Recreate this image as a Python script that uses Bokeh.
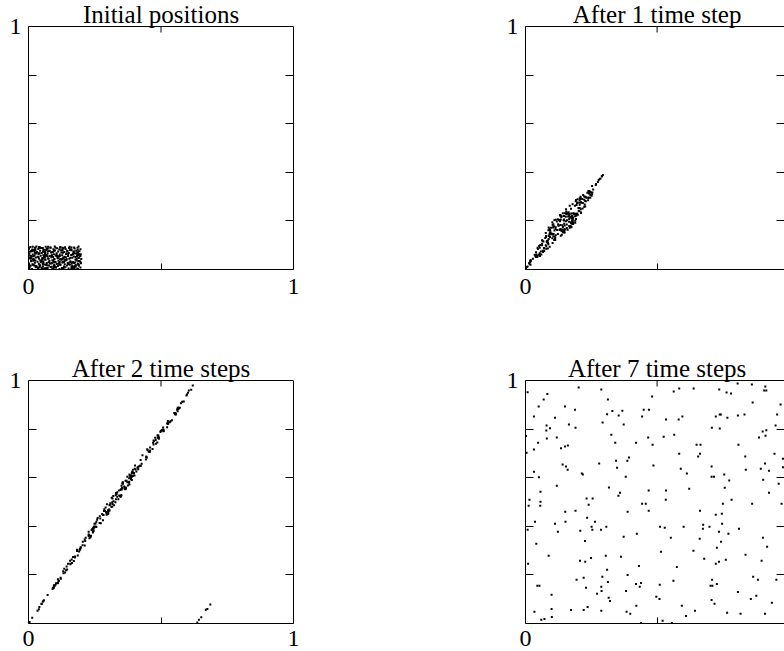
from bokeh.plotting import figure
from bokeh.models import Range1d, LinearAxis, FixedTicker, CustomJSTickFormatter, Label, Span
from bokeh.layouts import column, row
from bokeh.embed import file_html
from bokeh.resources import INLINE

# ---------------------------------------------------------------------------
# Particle positions in the unit square (x, y) at four stages of the map
# ---------------------------------------------------------------------------
initial_x = [
    0.004, 0.013, 0.027, 0.036, 0.049, 0.058, 0.071, 0.083, 0.092, 0.104, 0.117, 0.126, 0.139, 0.151, 0.160, 0.173, 0.184, 0.196,
    0.008, 0.019, 0.031, 0.043, 0.054, 0.066, 0.077, 0.088, 0.098, 0.111, 0.121, 0.134, 0.145, 0.156, 0.167, 0.179, 0.190,
    0.002, 0.015, 0.024, 0.039, 0.047, 0.061, 0.069, 0.081, 0.095, 0.107, 0.114, 0.129, 0.137, 0.148, 0.163, 0.176, 0.187, 0.198,
    0.010, 0.021, 0.034, 0.045, 0.056, 0.064, 0.079, 0.090, 0.101, 0.113, 0.124, 0.131, 0.143, 0.158, 0.169, 0.181, 0.193,
    0.005, 0.017, 0.028, 0.040, 0.052, 0.063, 0.074, 0.086, 0.097, 0.109, 0.119, 0.132, 0.141, 0.154, 0.165, 0.177, 0.188, 0.199,
    0.012, 0.023, 0.035, 0.046, 0.059, 0.068, 0.080, 0.093, 0.103, 0.115, 0.127, 0.136, 0.149, 0.161, 0.171, 0.183, 0.194,
    0.003, 0.016, 0.026, 0.038, 0.050, 0.062, 0.072, 0.085, 0.096, 0.106, 0.118, 0.130, 0.142, 0.152, 0.164, 0.175, 0.186, 0.197,
    0.009, 0.020, 0.032, 0.044, 0.055, 0.067, 0.078, 0.089, 0.100, 0.112, 0.123, 0.135, 0.147, 0.157, 0.170, 0.180, 0.192,
    0.001, 0.014, 0.025, 0.037, 0.048, 0.060, 0.073, 0.084, 0.094, 0.108, 0.116, 0.128, 0.140, 0.153, 0.162, 0.174, 0.185, 0.196,
    0.007, 0.030, 0.042, 0.065, 0.082, 0.099, 0.120, 0.138, 0.155, 0.172, 0.189,
    0.028, 0.184, 0.070, 0.158, 0.076, 0.052, 0.076, 0.158, 0.056, 0.038, 0.138, 0.186, 0.020, 0.040, 0.098, 0.118, 0.014, 0.128,
    0.056, 0.016, 0.172, 0.006, 0.050, 0.042, 0.012, 0.164, 0.160, 0.102, 0.164, 0.132, 0.018, 0.088, 0.190, 0.116, 0.062, 0.106,
    0.080, 0.056, 0.022, 0.090, 0.168, 0.054, 0.186, 0.042, 0.110, 0.128, 0.044, 0.178, 0.186, 0.162, 0.088, 0.162, 0.150, 0.118,
    0.088, 0.056, 0.112, 0.046, 0.172, 0.062, 0.054, 0.002, 0.182, 0.128, 0.132, 0.068, 0.068, 0.020, 0.086, 0.128, 0.026, 0.072,
    0.052, 0.098, 0.024, 0.144, 0.174, 0.132, 0.062, 0.176, 0.096, 0.104, 0.040, 0.056, 0.050, 0.182, 0.106, 0.072, 0.184, 0.006,
    0.002, 0.060, 0.010, 0.164, 0.132, 0.026, 0.028, 0.102, 0.030, 0.120, 0.066, 0.144, 0.072, 0.118, 0.038, 0.018, 0.172, 0.146,
    0.186, 0.022, 0.062, 0.022, 0.096, 0.088, 0.074, 0.124, 0.190, 0.070, 0.170, 0.054, 0.178, 0.054, 0.162, 0.002, 0.098, 0.196,
    0.134, 0.124, 0.012, 0.128, 0.172, 0.026, 0.188, 0.190, 0.094, 0.038, 0.004, 0.196, 0.188, 0.004, 0.010, 0.042, 0.152, 0.062,
    0.150, 0.168, 0.096, 0.092, 0.138,
]
initial_y = [
    0.006, 0.002, 0.009, 0.004, 0.007, 0.001, 0.005, 0.010, 0.003, 0.008, 0.002, 0.006, 0.009, 0.004, 0.001, 0.007, 0.003, 0.008,
    0.015, 0.019, 0.012, 0.017, 0.013, 0.020, 0.016, 0.011, 0.018, 0.014, 0.019, 0.012, 0.016, 0.020, 0.013, 0.017, 0.015,
    0.025, 0.022, 0.028, 0.024, 0.030, 0.021, 0.027, 0.025, 0.029, 0.023, 0.026, 0.030, 0.022, 0.027, 0.024, 0.029, 0.021, 0.026,
    0.034, 0.039, 0.032, 0.037, 0.033, 0.040, 0.035, 0.038, 0.031, 0.036, 0.040, 0.033, 0.038, 0.034, 0.031, 0.037, 0.035,
    0.046, 0.042, 0.049, 0.044, 0.047, 0.041, 0.045, 0.050, 0.043, 0.048, 0.042, 0.046, 0.050, 0.044, 0.048, 0.041, 0.047, 0.043,
    0.055, 0.059, 0.052, 0.057, 0.053, 0.060, 0.056, 0.051, 0.058, 0.054, 0.059, 0.052, 0.056, 0.060, 0.053, 0.057, 0.055,
    0.065, 0.062, 0.069, 0.064, 0.068, 0.061, 0.066, 0.070, 0.063, 0.067, 0.062, 0.069, 0.064, 0.068, 0.061, 0.066, 0.070, 0.063,
    0.075, 0.079, 0.072, 0.077, 0.073, 0.080, 0.076, 0.071, 0.078, 0.074, 0.079, 0.072, 0.076, 0.080, 0.073, 0.077, 0.075,
    0.085, 0.082, 0.089, 0.084, 0.088, 0.081, 0.086, 0.090, 0.083, 0.087, 0.082, 0.089, 0.084, 0.088, 0.081, 0.086, 0.090, 0.083,
    0.093, 0.095, 0.092, 0.094, 0.091, 0.095, 0.093, 0.092, 0.094, 0.091, 0.095,
    0.014, 0.062, 0.085, 0.030, 0.044, 0.041, 0.030, 0.048, 0.080, 0.067, 0.037, 0.071, 0.055, 0.092, 0.042, 0.022, 0.077, 0.006,
    0.059, 0.094, 0.027, 0.046, 0.032, 0.016, 0.075, 0.013, 0.082, 0.030, 0.029, 0.045, 0.036, 0.057, 0.048, 0.021, 0.068, 0.056,
    0.077, 0.046, 0.016, 0.002, 0.010, 0.001, 0.081, 0.010, 0.056, 0.044, 0.089, 0.051, 0.003, 0.091, 0.027, 0.009, 0.063, 0.031,
    0.058, 0.045, 0.046, 0.035, 0.074, 0.062, 0.011, 0.086, 0.043, 0.081, 0.087, 0.057, 0.082, 0.043, 0.025, 0.078, 0.037, 0.007,
    0.002, 0.013, 0.069, 0.043, 0.000, 0.006, 0.052, 0.016, 0.077, 0.009, 0.091, 0.028, 0.038, 0.067, 0.061, 0.074, 0.056, 0.057,
    0.012, 0.050, 0.046, 0.004, 0.049, 0.080, 0.066, 0.089, 0.010, 0.089, 0.005, 0.067, 0.054, 0.056, 0.050, 0.020, 0.010, 0.077,
    0.025, 0.075, 0.005, 0.081, 0.007, 0.059, 0.094, 0.070, 0.064, 0.017, 0.071, 0.023, 0.011, 0.088, 0.079, 0.018, 0.011, 0.031,
    0.031, 0.042, 0.053, 0.029, 0.002, 0.089, 0.060, 0.021, 0.035, 0.007, 0.016, 0.057, 0.035, 0.073, 0.037, 0.067, 0.028, 0.072,
    0.022, 0.064, 0.017, 0.072, 0.038,
]

step1_x = [
    0.042, 0.246, 0.155, 0.188, 0.120, 0.093, 0.106, 0.206, 0.136, 0.105, 0.175, 0.257, 0.075, 0.132, 0.140, 0.140, 0.091, 0.134,
    0.115, 0.110, 0.199, 0.052, 0.082, 0.058, 0.087, 0.177, 0.242, 0.132, 0.193, 0.177, 0.054, 0.145, 0.238, 0.137, 0.130, 0.162,
    0.157, 0.102, 0.038, 0.092, 0.178, 0.055, 0.267, 0.052, 0.166, 0.172, 0.133, 0.229, 0.189, 0.253, 0.115, 0.171, 0.213, 0.149,
    0.146, 0.101, 0.158, 0.081, 0.246, 0.124, 0.065, 0.088, 0.225, 0.209, 0.219, 0.125, 0.150, 0.063, 0.111, 0.206, 0.063, 0.079,
    0.054, 0.111, 0.093, 0.187, 0.174, 0.138, 0.114, 0.192, 0.173, 0.113, 0.131, 0.084, 0.088, 0.249, 0.167, 0.146, 0.240, 0.063,
    0.014, 0.110, 0.056, 0.168, 0.181, 0.106, 0.094, 0.191, 0.040, 0.209, 0.071, 0.211, 0.126, 0.174, 0.088, 0.038, 0.182, 0.223,
    0.211, 0.097, 0.067, 0.103, 0.103, 0.147, 0.168, 0.194, 0.254, 0.087, 0.241, 0.077, 0.189, 0.142, 0.241, 0.020, 0.109, 0.227,
    0.165, 0.166, 0.065, 0.157, 0.174, 0.115, 0.248, 0.211, 0.129, 0.045, 0.020, 0.253, 0.223, 0.077, 0.047, 0.109, 0.180, 0.134,
    0.172, 0.232, 0.113, 0.164, 0.176,
    0.005, 0.147, 0.185, 0.085, 0.198, 0.235, 0.166, 0.155, 0.239, 0.206, 0.206, 0.216, 0.157, 0.178, 0.019, 0.091, 0.147, 0.046,
    0.198, 0.205, 0.068, 0.179, 0.223, 0.239, 0.217, 0.085, 0.251, 0.042, 0.060, 0.095, 0.210, 0.107, 0.218, 0.196, 0.131, 0.161,
    0.154, 0.168, 0.181, 0.054, 0.192, 0.291, 0.102, 0.160, 0.246, 0.102, 0.131, 0.071, 0.078, 0.092, 0.123, 0.179, 0.142, 0.146,
    0.085, 0.133, 0.054, 0.081, 0.153, 0.133, 0.070, 0.079, 0.229, 0.002, 0.018, 0.192, 0.177, 0.227, 0.181, 0.119, 0.202, 0.028,
    0.106, 0.151, 0.149, 0.196, 0.153, 0.035, 0.201, 0.205, 0.078, 0.139, 0.210, 0.096, 0.227, 0.092, 0.173, 0.188, 0.040, 0.045,
    0.128, 0.144, 0.018, 0.137, 0.142, 0.094, 0.147, 0.123,
    0.294, 0.290, 0.282, 0.275, 0.268, 0.008, 0.015, 0.285, 0.278,
]
step1_y = [
    0.057, 0.308, 0.239, 0.219, 0.163, 0.134, 0.137, 0.253, 0.216, 0.173, 0.212, 0.329, 0.130, 0.224, 0.182, 0.162, 0.168, 0.139,
    0.174, 0.204, 0.225, 0.097, 0.115, 0.074, 0.162, 0.191, 0.323, 0.163, 0.221, 0.221, 0.090, 0.202, 0.285, 0.158, 0.199, 0.218,
    0.234, 0.147, 0.054, 0.094, 0.187, 0.056, 0.348, 0.061, 0.222, 0.215, 0.223, 0.281, 0.192, 0.344, 0.141, 0.179, 0.275, 0.181,
    0.204, 0.145, 0.203, 0.116, 0.320, 0.186, 0.077, 0.173, 0.268, 0.290, 0.307, 0.182, 0.231, 0.106, 0.135, 0.284, 0.100, 0.085,
    0.056, 0.125, 0.163, 0.230, 0.174, 0.143, 0.167, 0.208, 0.250, 0.121, 0.222, 0.111, 0.126, 0.317, 0.228, 0.220, 0.296, 0.120,
    0.027, 0.161, 0.101, 0.172, 0.231, 0.186, 0.159, 0.281, 0.051, 0.299, 0.076, 0.277, 0.180, 0.230, 0.139, 0.058, 0.193, 0.300,
    0.235, 0.172, 0.072, 0.184, 0.109, 0.206, 0.262, 0.265, 0.317, 0.104, 0.313, 0.100, 0.201, 0.231, 0.320, 0.038, 0.121, 0.259,
    0.197, 0.208, 0.118, 0.185, 0.176, 0.205, 0.308, 0.232, 0.164, 0.051, 0.036, 0.310, 0.258, 0.150, 0.084, 0.177, 0.207, 0.206,
    0.194, 0.295, 0.130, 0.236, 0.214,
    0.010, 0.159, 0.228, 0.119, 0.276, 0.316, 0.179, 0.227, 0.323, 0.293, 0.266, 0.290, 0.171, 0.220, 0.020, 0.137, 0.188, 0.089,
    0.289, 0.240, 0.115, 0.200, 0.287, 0.294, 0.251, 0.086, 0.304, 0.062, 0.062, 0.152, 0.248, 0.146, 0.274, 0.230, 0.204, 0.229,
    0.248, 0.217, 0.187, 0.067, 0.286, 0.384, 0.129, 0.164, 0.295, 0.194, 0.201, 0.086, 0.138, 0.148, 0.146, 0.269, 0.175, 0.153,
    0.109, 0.183, 0.061, 0.113, 0.217, 0.167, 0.088, 0.096, 0.297, 0.002, 0.031, 0.228, 0.203, 0.282, 0.213, 0.198, 0.242, 0.044,
    0.178, 0.165, 0.152, 0.274, 0.199, 0.061, 0.253, 0.275, 0.134, 0.165, 0.293, 0.147, 0.299, 0.146, 0.190, 0.262, 0.071, 0.057,
    0.204, 0.157, 0.036, 0.219, 0.153, 0.150, 0.166, 0.207,
    0.389, 0.384, 0.372, 0.360, 0.352, 0.012, 0.024, 0.374, 0.368,
]

step2_x = [
    0.099, 0.553, 0.394, 0.407, 0.283, 0.227, 0.243, 0.459, 0.351, 0.278, 0.387, 0.586, 0.205, 0.356, 0.321, 0.302, 0.259, 0.273,
    0.289, 0.314, 0.424, 0.149, 0.197, 0.132, 0.249, 0.368, 0.565, 0.295, 0.414, 0.398, 0.144, 0.347, 0.523, 0.295, 0.329, 0.380,
    0.391, 0.249, 0.092, 0.186, 0.365, 0.111, 0.614, 0.113, 0.388, 0.387, 0.356, 0.510, 0.381, 0.598, 0.256, 0.350, 0.488, 0.330,
    0.350, 0.246, 0.361, 0.197, 0.566, 0.309, 0.142, 0.261, 0.492, 0.498, 0.526, 0.307, 0.381, 0.168, 0.246, 0.490, 0.163, 0.164,
    0.110, 0.236, 0.256, 0.416, 0.348, 0.281, 0.281, 0.400, 0.423, 0.234, 0.354, 0.195, 0.214, 0.566, 0.394, 0.366, 0.536, 0.183,
    0.041, 0.271, 0.157, 0.339, 0.412, 0.291, 0.253, 0.472, 0.091, 0.508, 0.146, 0.488, 0.306, 0.404, 0.227, 0.096, 0.375, 0.523,
    0.446, 0.269, 0.138, 0.286, 0.212, 0.353, 0.430, 0.459, 0.571, 0.191, 0.554, 0.176, 0.390, 0.373, 0.561, 0.058, 0.230, 0.486,
    0.362, 0.373, 0.184, 0.342, 0.350, 0.320, 0.556, 0.443, 0.293, 0.096, 0.056, 0.563, 0.481, 0.227, 0.131, 0.286, 0.387, 0.341,
    0.366, 0.527, 0.243, 0.401, 0.390,
    0.014, 0.306, 0.412, 0.204, 0.474, 0.550, 0.345, 0.382, 0.562, 0.499, 0.472, 0.506, 0.328, 0.397, 0.039, 0.228, 0.335, 0.135,
    0.487, 0.445, 0.183, 0.379, 0.510, 0.533, 0.468, 0.171, 0.556, 0.104, 0.122, 0.247, 0.458, 0.253, 0.492, 0.427, 0.335, 0.390,
    0.402, 0.385, 0.368, 0.121, 0.478, 0.675, 0.231, 0.323, 0.541, 0.296, 0.332, 0.158, 0.216, 0.240, 0.268, 0.448, 0.317, 0.299,
    0.194, 0.316, 0.115, 0.194, 0.370, 0.300, 0.158, 0.175, 0.526, 0.004, 0.049, 0.420, 0.380, 0.509, 0.394, 0.317, 0.444, 0.072,
    0.285, 0.316, 0.301, 0.470, 0.352, 0.096, 0.454, 0.480, 0.212, 0.304, 0.503, 0.243, 0.526, 0.238, 0.363, 0.450, 0.111, 0.102,
    0.332, 0.301, 0.054, 0.356, 0.295, 0.244, 0.313, 0.330,
    0.620, 0.605, 0.602, 0.596, 0.580, 0.575, 0.034, 0.050, 0.637, 0.643, 0.652, 0.669, 0.686,
]
step2_y = [
    0.155, 0.861, 0.633, 0.626, 0.447, 0.360, 0.380, 0.712, 0.567, 0.451, 0.599, 0.914, 0.336, 0.581, 0.503, 0.463, 0.427, 0.413,
    0.463, 0.518, 0.649, 0.246, 0.312, 0.207, 0.411, 0.559, 0.889, 0.458, 0.635, 0.619, 0.235, 0.549, 0.808, 0.453, 0.528, 0.598,
    0.625, 0.396, 0.147, 0.280, 0.552, 0.167, 0.962, 0.174, 0.610, 0.603, 0.579, 0.791, 0.572, 0.942, 0.397, 0.529, 0.764, 0.511,
    0.554, 0.391, 0.564, 0.314, 0.887, 0.495, 0.219, 0.434, 0.760, 0.788, 0.833, 0.489, 0.613, 0.274, 0.382, 0.774, 0.263, 0.249,
    0.166, 0.361, 0.419, 0.646, 0.522, 0.425, 0.447, 0.609, 0.673, 0.355, 0.576, 0.306, 0.340, 0.883, 0.622, 0.587, 0.832, 0.303,
    0.068, 0.432, 0.258, 0.511, 0.643, 0.477, 0.412, 0.753, 0.142, 0.807, 0.222, 0.765, 0.487, 0.634, 0.366, 0.154, 0.568, 0.823,
    0.682, 0.441, 0.210, 0.470, 0.321, 0.559, 0.692, 0.724, 0.888, 0.296, 0.866, 0.276, 0.591, 0.604, 0.880, 0.096, 0.351, 0.745,
    0.559, 0.581, 0.302, 0.527, 0.526, 0.525, 0.863, 0.675, 0.458, 0.147, 0.093, 0.873, 0.740, 0.378, 0.215, 0.463, 0.594, 0.547,
    0.559, 0.822, 0.374, 0.637, 0.604,
    0.024, 0.465, 0.640, 0.322, 0.750, 0.866, 0.524, 0.608, 0.885, 0.792, 0.737, 0.797, 0.499, 0.617, 0.059, 0.365, 0.522, 0.225,
    0.775, 0.686, 0.298, 0.579, 0.797, 0.828, 0.718, 0.257, 0.860, 0.166, 0.184, 0.399, 0.706, 0.399, 0.766, 0.657, 0.540, 0.619,
    0.650, 0.602, 0.555, 0.188, 0.764, 0.060, 0.360, 0.487, 0.836, 0.491, 0.533, 0.244, 0.353, 0.388, 0.414, 0.717, 0.492, 0.452,
    0.304, 0.499, 0.176, 0.307, 0.587, 0.466, 0.246, 0.272, 0.823, 0.006, 0.080, 0.649, 0.583, 0.792, 0.607, 0.514, 0.686, 0.117,
    0.463, 0.481, 0.452, 0.744, 0.551, 0.157, 0.707, 0.755, 0.346, 0.469, 0.796, 0.390, 0.824, 0.385, 0.554, 0.713, 0.182, 0.159,
    0.536, 0.458, 0.090, 0.575, 0.448, 0.394, 0.479, 0.537,
    0.979, 0.959, 0.950, 0.938, 0.913, 0.906, 0.052, 0.081, 0.004, 0.015, 0.026, 0.057, 0.078,
]

step7_x = [
    0.008, 0.083, 0.069, 0.202, 0.288, 0.313, 0.481, 0.050, 0.150, 0.188, 0.032, 0.112, 0.310, 0.330, 0.368, 0.354, 0.449, 0.469,
    0.443, 0.080, 0.093, 0.079, 0.165, 0.190, 0.293, 0.373, 0.002, 0.081, 0.119, 0.326, 0.466, 0.048, 0.341, 0.420, 0.483, 0.032,
    0.135, 0.150, 0.161, 0.004, 0.280, 0.344, 0.393, 0.387, 0.141, 0.154, 0.160, 0.348, 0.486, 0.032, 0.214, 0.218, 0.051, 0.381,
    0.119, 0.317, 0.057, 0.359, 0.353, 0.468, 0.015, 0.232, 0.255,
    0.806, 0.860, 0.911, 0.907, 0.915, 0.563, 0.584, 0.639, 0.736, 0.764, 0.781, 0.863, 0.969, 0.534, 0.582, 0.596, 0.723, 0.738,
    0.742, 0.767, 0.807, 0.832, 0.956, 0.708, 0.738, 0.950, 0.901, 0.915, 0.525, 0.565, 0.887, 0.912, 0.650, 0.665, 0.809, 0.584,
    0.663, 0.656, 0.835, 0.946, 0.978, 0.590, 0.707, 0.837, 0.894, 0.910, 0.925, 0.978, 0.613, 0.707, 0.716, 0.755, 0.774, 0.903,
    0.962, 0.622, 0.757, 0.534, 0.925, 0.533, 0.783,
    0.057, 0.012, 0.056, 0.240, 0.443, 0.457, 0.151, 0.190, 0.388, 0.468, 0.234, 0.036, 0.112, 0.152, 0.264, 0.251, 0.307, 0.008,
    0.123, 0.208, 0.254, 0.287, 0.423, 0.373, 0.226, 0.041, 0.088, 0.305, 0.363, 0.249, 0.207, 0.227, 0.010, 0.431, 0.310, 0.388,
    0.292, 0.221, 0.194, 0.313, 0.045, 0.053, 0.420, 0.439, 0.434, 0.288, 0.230, 0.289, 0.382, 0.272, 0.099, 0.316, 0.321, 0.497,
    0.421, 0.236, 0.099, 0.173, 0.221, 0.288, 0.384, 0.398, 0.034, 0.100, 0.072, 0.060, 0.439,
    0.750, 0.861, 0.973, 0.663, 0.723, 0.746, 0.511, 0.529, 0.601, 0.675, 0.674, 0.699, 0.747, 0.735, 0.771, 0.811, 0.552, 0.662,
    0.743, 0.902, 0.918, 0.727, 0.515, 0.638, 0.836, 0.679, 0.761, 0.735, 0.723, 0.897, 0.575, 0.865, 0.883, 0.953, 0.562, 0.709,
    0.703, 0.710, 0.727, 0.510, 0.807, 0.509, 0.707, 0.718, 0.856, 0.877, 0.936, 0.594, 0.644, 0.610, 0.766, 0.817, 0.910, 0.521,
    0.556,
]
step7_y = [
    0.952, 0.944, 0.922, 0.971, 0.963, 0.922, 0.934, 0.893, 0.893, 0.880, 0.852, 0.847, 0.861, 0.874, 0.876, 0.856, 0.880, 0.880,
    0.852, 0.815, 0.804, 0.794, 0.819, 0.806, 0.827, 0.819, 0.772, 0.761, 0.765, 0.777, 0.765, 0.744, 0.744, 0.744, 0.736, 0.716,
    0.721, 0.728, 0.732, 0.703, 0.658, 0.670, 0.683, 0.670, 0.654, 0.646, 0.633, 0.641, 0.650, 0.625, 0.617, 0.613, 0.602, 0.604,
    0.567, 0.560, 0.542, 0.538, 0.526, 0.547, 0.509, 0.514, 0.514,
    0.988, 0.984, 0.975, 0.959, 0.959, 0.955, 0.967, 0.967, 0.963, 0.951, 0.946, 0.909, 0.901, 0.839, 0.839, 0.852, 0.852, 0.860,
    0.860, 0.847, 0.856, 0.860, 0.860, 0.806, 0.802, 0.815, 0.790, 0.795, 0.769, 0.777, 0.765, 0.773, 0.736, 0.736, 0.736, 0.699,
    0.699, 0.687, 0.687, 0.699, 0.678, 0.637, 0.646, 0.633, 0.637, 0.658, 0.629, 0.643, 0.617, 0.604, 0.604, 0.613, 0.588, 0.592,
    0.575, 0.555, 0.559, 0.547, 0.538, 0.509, 0.509,
    0.501, 0.485, 0.485, 0.489, 0.493, 0.493, 0.460, 0.464, 0.460, 0.464, 0.435, 0.419, 0.411, 0.419, 0.419, 0.398, 0.398, 0.386,
    0.378, 0.382, 0.386, 0.386, 0.369, 0.357, 0.340, 0.328, 0.279, 0.279, 0.275, 0.270, 0.258, 0.254, 0.246, 0.237, 0.221, 0.200,
    0.192, 0.188, 0.180, 0.171, 0.155, 0.155, 0.163, 0.167, 0.151, 0.151, 0.147, 0.134, 0.134, 0.122, 0.118, 0.106, 0.093, 0.110,
    0.073, 0.068, 0.060, 0.056, 0.056, 0.052, 0.048, 0.040, 0.048, 0.027, 0.019, 0.015, 0.002,
    0.493, 0.493, 0.493, 0.464, 0.448, 0.452, 0.398, 0.394, 0.398, 0.406, 0.390, 0.398, 0.411, 0.378, 0.369, 0.390, 0.353, 0.349,
    0.336, 0.353, 0.316, 0.312, 0.295, 0.299, 0.283, 0.266, 0.262, 0.254, 0.246, 0.258, 0.233, 0.192, 0.180, 0.180, 0.176, 0.180,
    0.155, 0.155, 0.163, 0.159, 0.130, 0.101, 0.097, 0.081, 0.101, 0.114, 0.085, 0.073, 0.052, 0.031, 0.044, 0.040, 0.040, 0.011,
    0.002,
]

titles = ["Initial positions", "After 1 time step", "After 2 time steps", "After 7 time steps"]

FONT = "Liberation Serif"
BOX_PX = 243      # height of the unit square in pixels
TITLE_PX = 26     # strip above the unit square that holds the title
TOP_TICK_PX = 6   # length of the inward tick at the middle of the top edge


def make_panel(title, xs, ys, width, height, border_left, border_right, border_bottom,
               x_end, label_standoff, right_edge_visible):
    y_end = (BOX_PX + TITLE_PX) / BOX_PX
    p = figure(width=width, height=height,
               x_range=Range1d(0, x_end), y_range=Range1d(0, y_end),
               x_axis_location=None, y_axis_location=None,
               min_border_left=border_left, min_border_right=border_right,
               min_border_top=0, min_border_bottom=border_bottom,
               output_backend="svg", toolbar_location=None)
    p.grid.visible = False
    p.background_fill_color = "white"
    p.border_fill_color = "white"
    p.outline_line_color = None

    # bottom edge: only the corner values are labelled, one tick in the middle
    bottom = LinearAxis(
        ticker=FixedTicker(ticks=[0, 0.5, 1]),
        formatter=CustomJSTickFormatter(code="return (tick == 0 || tick == 1) ? String(tick) : '';"),
        major_tick_in=6, major_tick_out=0, minor_tick_line_color=None,
        major_label_standoff=label_standoff,
        major_label_text_font=FONT, major_label_text_font_size="24px",
        major_label_text_color="black",
        axis_line_color="black", major_tick_line_color="black")
    p.add_layout(bottom, "below")

    left = LinearAxis(
        bounds=(0, 1),
        ticker=FixedTicker(ticks=[0.2, 0.4, 0.6, 0.8, 1]),
        formatter=CustomJSTickFormatter(code="return (tick == 1) ? '1' : '';"),
        major_tick_in=8, major_tick_out=0, minor_tick_line_color=None,
        major_label_standoff=7,
        major_label_text_font=FONT, major_label_text_font_size="24px",
        major_label_text_color="black",
        axis_line_color="black", major_tick_line_color="black")
    p.add_layout(left, "left")

    right = LinearAxis(
        bounds=(0, 1),
        ticker=FixedTicker(ticks=[0.2, 0.4, 0.6, 0.8]),
        formatter=CustomJSTickFormatter(code="return '';"),
        major_tick_in=8, major_tick_out=0, minor_tick_line_color=None,
        major_label_standoff=0, major_label_text_font_size="0px",
        axis_line_color="black" if right_edge_visible else None,
        major_tick_line_color="black")
    p.add_layout(right, "right")

    # top edge of the unit square and its middle tick
    p.add_layout(Span(location=1, dimension="width", line_color="black", line_width=1))
    p.segment(x0=[0.5], y0=[1.0], x1=[0.5], y1=[1.0 - TOP_TICK_PX / BOX_PX],
              line_color="black", line_width=1)

    # title sits just above the top edge
    p.add_layout(Label(x=0.5, y=1, x_units="data", y_units="data", text=title,
                       text_align="center", text_baseline="alphabetic", y_offset=12,
                       text_font=FONT, text_font_size="25px", text_color="black"))

    p.scatter(xs, ys, marker="square", size=2, fill_color="black", line_color=None)
    return p


# top row: unit squares from y=26 to y=269
p1 = make_panel(titles[0], initial_x, initial_y, 409, 354, 28, 116, 85, 1.0, 9, True)
p2 = make_panel(titles[1], step1_x, step1_y, 375, 354, 116, 0, 85, 0.984, 9, False)
# bottom row: unit squares from y=380 to y=623
p3 = make_panel(titles[2], step2_x, step2_y, 409, 297, 28, 116, 28, 1.0, 7, True)
p4 = make_panel(titles[3], step7_x, step7_y, 375, 297, 116, 0, 28, 0.984, 7, False)

layout = column(row(p1, p2, spacing=0), row(p3, p4, spacing=0), spacing=0)

with open("out.html", "w") as f:
    f.write(file_html(layout, INLINE))
